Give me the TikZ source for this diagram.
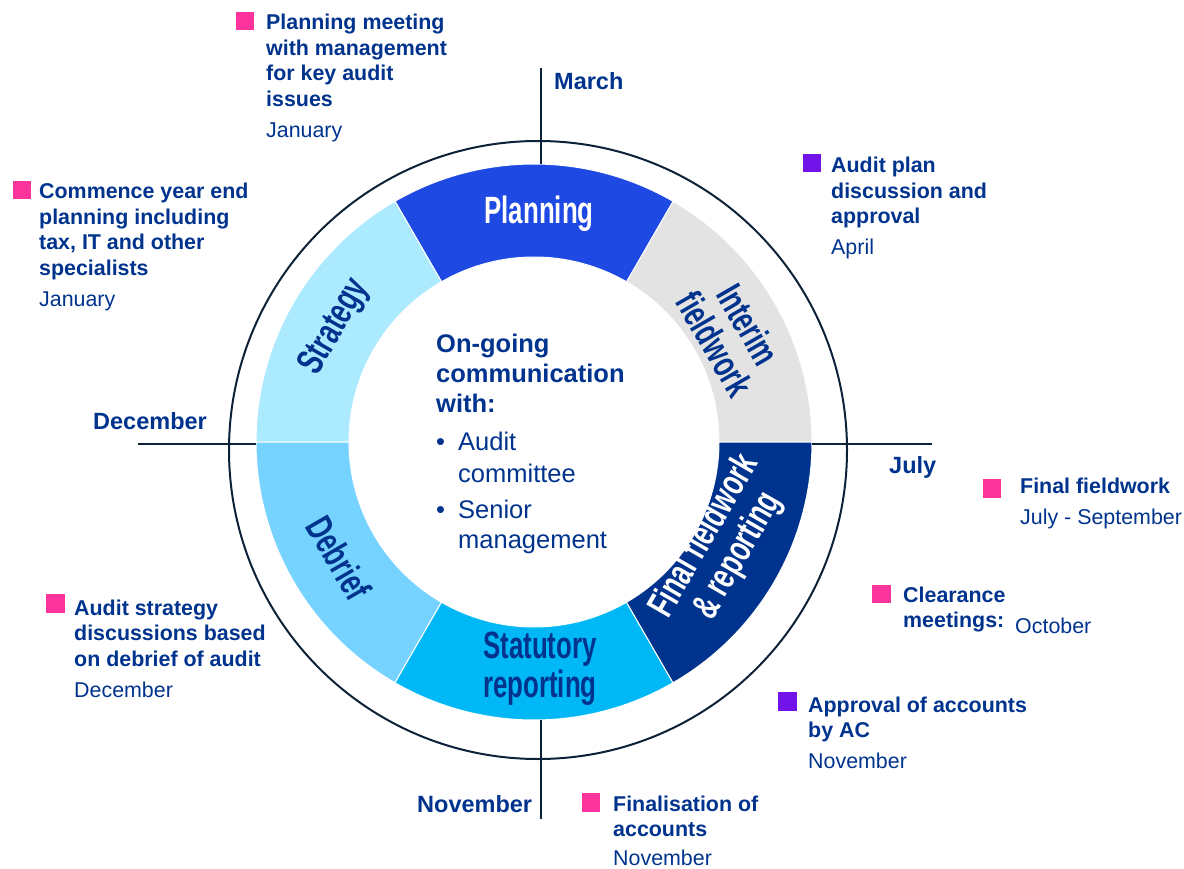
\documentclass[tikz,border=0pt]{standalone}
\usepackage{fontspec}
\setmainfont{Liberation Sans}
\usetikzlibrary{calc}
\definecolor{navy}{HTML}{00338D}
\definecolor{ringline}{HTML}{0D2238}
\definecolor{pinksq}{HTML}{FD349C}
\definecolor{purplesq}{HTML}{7213EA}
\definecolor{cPlan}{HTML}{1E49E2}
\definecolor{cInterim}{HTML}{E3E3E3}
\definecolor{cStrat}{HTML}{ACEAFF}
\definecolor{cDebrief}{HTML}{76D2FF}
\definecolor{cStat}{HTML}{00B8F5}
\definecolor{cFinal}{HTML}{00338D}
\newcommand{\ringseg}[3]{%
  \fill[#3, draw=white, line width=1pt] ($(C)+(#1:185)$) arc[start angle=#1, end angle=#2, radius=185]
    -- ($(C)+(#2:278)$) arc[start angle=#2, end angle=#1, radius=278] -- cycle;}
\newcommand{\evtxt}[3][5.5pt]{\parbox[t]{320pt}{\raggedright\bfseries #2\\[#1]\mdseries #3}}
\newcommand{\cnd}[1]{\scalebox{0.68}[1]{#1}}
\tikzset{
  tick/.style={draw=ringline, line width=2pt},
  sq/.style={minimum size=18.5pt, inner sep=0pt, outer sep=0pt},
  evt/.style={anchor=base west, inner sep=0pt, text=navy, font=\fontsize{21.4}{25.5}\selectfont},
  month/.style={anchor=base west, inner sep=0pt, text=navy, font=\fontsize{23.5}{25}\selectfont\bfseries},
  seglabel/.style={inner sep=0pt, font=\fontsize{38}{37}\selectfont\bfseries, align=center},
  centre/.style={anchor=base west, inner sep=0pt, text=navy}
}
\begin{document}
\begin{tikzpicture}[x=1pt,y=-1pt]
\useasboundingbox (0,0) rectangle (1184,869);
\coordinate (C) at (534,442);
% ring segments
\ringseg{0}{-60}{cInterim}
\ringseg{-60}{-120}{cPlan}
\ringseg{-120}{-180}{cStrat}
\ringseg{-180}{-240}{cDebrief}
\ringseg{-240}{-300}{cStat}
\ringseg{-300}{-360}{cFinal}
% outer circle
\draw[tick] (538,450) circle[radius=309];
% month ticks
\coordinate (topA) at (541,68);   \coordinate (topB) at (541,164);
\coordinate (botA) at (541,720);  \coordinate (botB) at (541,819);
\coordinate (lefA) at (138,444);  \coordinate (lefB) at (256,444);
\coordinate (rigA) at (812,444);  \coordinate (rigB) at (932,444);
\draw[tick] (topA) -- (topB);
\draw[tick] (botA) -- (botB);
\draw[tick] (lefA) -- (lefB);
\draw[tick] (rigA) -- (rigB);
% segment labels
\node[seglabel, text=white] (lPlan) at (539,214) {\cnd{Planning}};
\node[seglabel, text=navy, rotate=60] (lStrat) at (335,327) {\cnd{Strategy}};
\node[seglabel, text=navy, rotate=-60] (lInt) at (727,337) {\cnd{\begin{tabular}{@{}c@{}}Interim\\fieldwork\end{tabular}}};
\node[seglabel, text=navy, rotate=-60] (lDeb) at (339,558) {\cnd{Debrief}};
\node[seglabel, text=navy] (lStat) at (540,670) {\cnd{\begin{tabular}{@{}c@{}}Statutory\\reporting\end{tabular}}};
\node[seglabel, text=white, rotate=60] (lFin) at (723,547) {\cnd{\begin{tabular}{@{}c@{}}Final fieldwork\\\& reporting\end{tabular}}};
% centre text
\node[centre, font=\fontsize{25.5}{30}\selectfont] (comm) at (436,352) {\parbox[t]{220pt}{\bfseries On-going\\communication\\with:}};
\node[centre, font=\fontsize{25.5}{32}\selectfont] (bul1) at (436,450) {\textbullet};
\node[centre, font=\fontsize{25.5}{32}\selectfont] (aud) at (458,450) {\parbox[t]{200pt}{Audit\\committee}};
\node[centre, font=\fontsize{25.5}{30}\selectfont] (bul2) at (436,518) {\textbullet};
\node[centre, font=\fontsize{25.5}{30}\selectfont] (sen) at (458,518) {\parbox[t]{200pt}{Senior\\management}};
% month labels
\node[month] (mMar) at (554,90) {March};
\node[month] (mDec) at (93,429) {December};
\node[month] (mJul) at (889,473) {July};
\node[month] (mNov) at (417,812) {November};
% events
\node[sq, fill=pinksq] (s1) at (245,21) {};
\node[evt] (e1) at (266,30) {\evtxt{Planning meeting\\with management\\for key audit\\issues}{January}};
\node[sq, fill=pinksq] (s2) at (22,190) {};
\node[evt] (e2) at (39,199) {\evtxt{Commence year end\\planning including\\tax, IT and other\\specialists}{January}};
\node[sq, fill=purplesq] (s3) at (812,163) {};
\node[evt] (e3) at (831,173) {\evtxt{Audit plan\\discussion and\\approval}{April}};
\node[sq, fill=pinksq] (s4) at (992,488.5) {};
\node[evt] (e4) at (1020,493) {\evtxt{Final fieldwork}{July - September}};
\node[sq, fill=pinksq] (s5) at (881.5,594) {};
\node[evt] (e5) at (903,602) {\parbox[t]{200pt}{\bfseries Clearance\\meetings:}};
\node[evt] (e5d) at (1015,633) {October};
\node[sq, fill=pinksq] (s6) at (55.5,603.5) {};
\node[evt] (e6) at (74,615) {\evtxt{Audit strategy\\discussions based\\on debrief of audit}{December}};
\node[sq, fill=purplesq] (s7) at (787.5,701.5) {};
\node[evt] (e7) at (808,712) {\evtxt{Approval of accounts\\by AC}{November}};
\node[sq, fill=pinksq] (s8) at (591,802.5) {};
\node[evt] (e8) at (613,811) {\evtxt[3pt]{Finalisation of\\accounts}{November}};
\end{tikzpicture}
\end{document}
